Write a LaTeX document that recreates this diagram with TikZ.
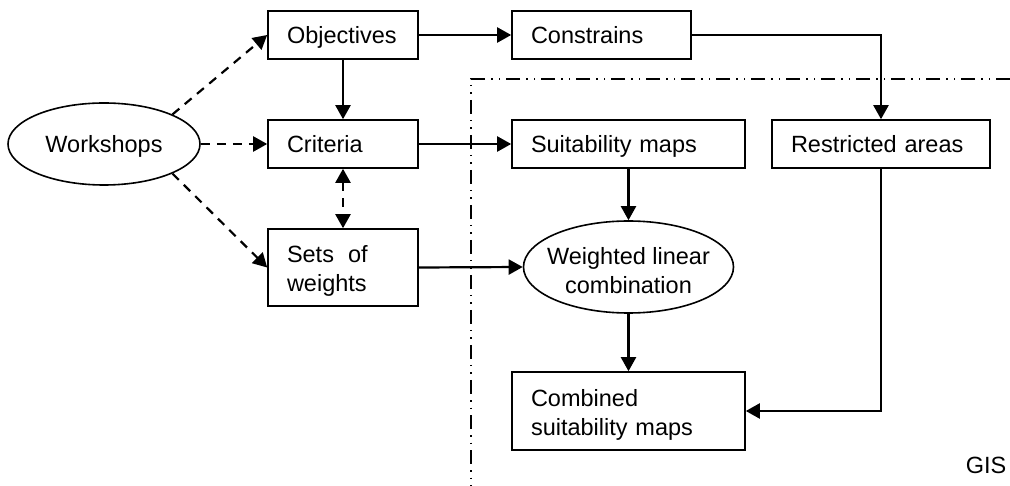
\documentclass[tikz,border=0pt]{standalone}
\usepackage{fontspec}
\setmainfont{Liberation Sans}
\usetikzlibrary{arrows.meta,shapes.geometric}
\begin{document}
\begin{tikzpicture}[x=1pt,y=-1pt,
  every node/.style={font=\fontsize{23.5}{29}\selectfont},
  box/.style={draw,line width=1.6pt,rectangle,inner xsep=19pt,inner ysep=0pt,align=left,text depth=0pt},
  box2/.style={box,text depth=27pt},
  oval/.style={draw,line width=1.6pt,ellipse,inner sep=0pt},
  arr/.style={line width=2.2pt,-{Triangle[length=14pt,width=15pt]}},
  darr/.style={arr,dash pattern=on 9pt off 7pt},
  gisline/.style={line width=1.1pt,dash pattern=on 14pt off 6pt on 1.5pt off 6pt on 1.5pt off 6pt}]
\useasboundingbox (0,0) rectangle (1010,486);
% dash-dot boundary
\coordinate (gisr) at (1010,79);
\coordinate (gisc) at (471,79);
\coordinate (gisb) at (471,486);
\draw[gisline] (gisr) -- (gisc) -- (gisb);
% nodes
\node[oval,minimum width=192pt,minimum height=82pt,text depth=0pt] (ws) at (104,144) {Workshops};
\node[box,text width=112pt,minimum height=48pt] (obj) at (343,35) {Objectives};
\node[box,text width=112pt,minimum height=48pt] (crit) at (343,144) {Criteria};
\node[box2,text width=112pt,minimum height=77pt] (sets) at (343,267.5) {Sets\hspace{14pt}of\\weights};
\node[box,text width=141pt,minimum height=48pt] (con) at (601.5,35) {Constrains};
\node[box,text width=195pt,minimum height=48pt] (suit) at (628.5,144) {Suitability maps};
\node[box,text width=180pt,minimum height=48pt] (res) at (881,144) {Restricted areas};
\node[oval,minimum width=210pt,minimum height=92pt,
  label={[align=center,font=\fontsize{23.5}{29}\selectfont,yshift=-4pt]center:Weighted linear\\combination}] (wlc) at (628.5,267) {};
\node[box2,text width=195pt,minimum height=78pt] (comb) at (628.5,411) {Combined\\suitability maps};
\node (gis) at (986,465) {GIS};
% connectors
\draw[darr] (ws.north east) -- (obj.west);
\draw[darr] (ws.east) -- (crit.west);
\draw[darr] (ws.south east) -- (sets.west);
\draw[arr] (obj.south) -- (crit.north);
\draw[darr,{Triangle[length=14pt,width=15pt]}-{Triangle[length=14pt,width=15pt]}] (crit.south) -- (sets.north);
\draw[arr] (obj.east) -- (con.west);
\draw[arr] (crit.east) -- (suit.west);
\draw[arr] (con.east) -| (res.north);
\draw[arr] (sets.east) -- (wlc.west);
\draw[arr] (suit.south) -- (wlc.north);
\draw[arr] (wlc.south) -- (comb.north);
\draw[arr] (res.south) |- (comb.east);
\end{tikzpicture}
\end{document}
